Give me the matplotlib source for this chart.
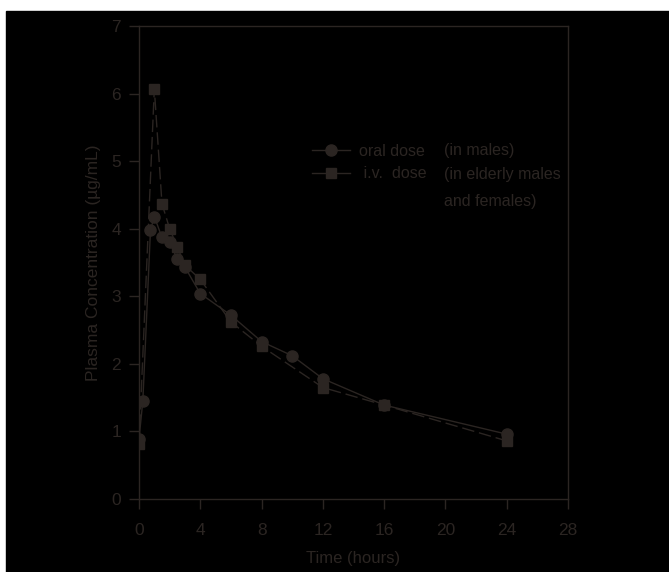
import matplotlib
matplotlib.use('Agg')
import matplotlib.pyplot as plt
from matplotlib.patches import Rectangle

# ── Data ──
oral_t = [0, 0.25, 0.75, 1, 1.5, 2, 2.5, 3, 4, 6, 8, 10, 12, 16, 24]
oral_c = [0.89, 1.45, 3.98, 4.18, 3.87, 3.80, 3.55, 3.43, 3.04, 2.72, 2.33, 2.12, 1.78, 1.39, 0.96]

iv_t = [0, 1, 1.5, 2, 2.5, 3, 4, 6, 8, 12, 16, 24]
iv_c = [0.81, 6.07, 4.37, 4.00, 3.73, 3.46, 3.25, 2.62, 2.26, 1.65, 1.39, 0.86]

xticks = [0, 4, 8, 12, 16, 20, 24, 28]
yticks = [0, 1, 2, 3, 4, 5, 6, 7]

INK = '#2b2522'
plt.rcParams.update({'font.family': 'Liberation Sans', 'font.size': 11})

fig = plt.figure(figsize=(6.69, 5.72), dpi=100, facecolor='white')
# black panel behind everything (thin white strip at top and left)
fig.patches.append(Rectangle((6 / 669, 0), 1 - 6 / 669, 1 - 11 / 572,
                             transform=fig.transFigure, color='black', zorder=-5))

ax = fig.add_axes([139 / 669, 1 - 499 / 572, 429 / 669, 473 / 572])
ax.set_facecolor('black')

ax.plot(oral_t, oral_c, '-', color=INK, lw=1.0, marker='o', ms=8,
        mfc=INK, mec=INK, label='oral dose', zorder=3)
ax.plot(iv_t, iv_c, color=INK, lw=1.0, ls=(0, (9, 3.5)), marker='s', ms=7,
        mfc=INK, mec=INK, label=' i.v.  dose', zorder=2)

ax.set_xlim(0, 28)
ax.set_ylim(0, 7)
ax.set_xticks(xticks)
ax.set_yticks(yticks)
for s in ax.spines.values():
    s.set_color(INK)
    s.set_linewidth(1.0)
ax.tick_params(direction='out', length=7, width=1.0, color=INK,
               labelcolor=INK, labelsize=12.5)
ax.tick_params(axis='x', pad=10)
ax.tick_params(axis='y', pad=6)

ax.set_xlabel('Time (hours)', color=INK, fontsize=12, labelpad=10)
ax.set_ylabel('Plasma Concentration (\u00b5g/mL)', color=INK, fontsize=12.5, labelpad=7)

leg = ax.legend(loc='upper left', bbox_to_anchor=(0.37, 0.781), frameon=False,
                fontsize=11.5, handlelength=2.4, handletextpad=0.55,
                labelspacing=0.45, labelcolor=INK)
for h in leg.get_lines():
    h.set_linestyle('-')

ax.text(0.71, 0.736, '(in males)', transform=ax.transAxes, color=INK,
        fontsize=11.5, va='center')
ax.text(0.71, 0.686, '(in elderly males', transform=ax.transAxes, color=INK,
        fontsize=11.5, va='center')
ax.text(0.71, 0.630, 'and females)', transform=ax.transAxes, color=INK,
        fontsize=11.5, va='center')

fig.savefig('out.png', dpi=100, facecolor='white')
